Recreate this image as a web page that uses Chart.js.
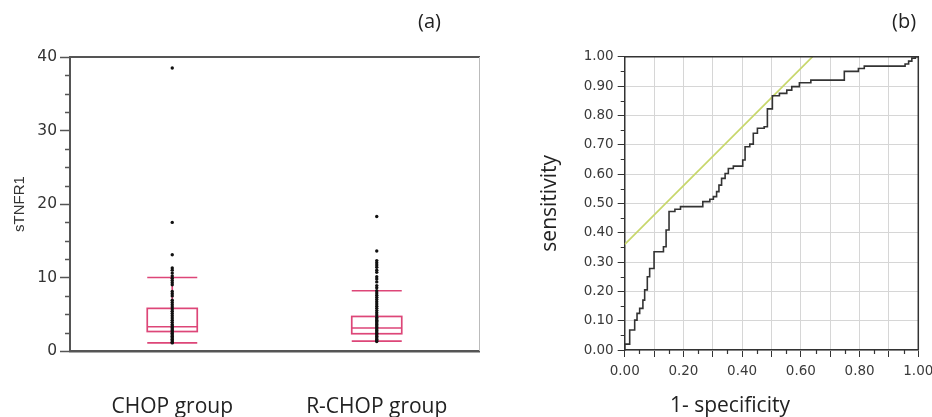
<!DOCTYPE html>
<html><head><meta charset="utf-8">
<script src="https://cdn.jsdelivr.net/npm/chart.js@4.4.1/dist/chart.umd.min.js"></script>
<style>
html,body{margin:0;padding:0;background:#fff;width:932px;height:417px;overflow:hidden;}
#wrapA{position:absolute;left:0;top:0;width:495px;height:417px;}
#wrapB{position:absolute;left:495px;top:0;width:437px;height:417px;}
.lbl{position:absolute;font-family:'Open Sans';color:#222;line-height:1;white-space:nowrap;}
</style></head><body>
<div id="wrapA"><canvas id="cA" width="495" height="417" style="width:495px;height:417px"></canvas></div>
<div id="wrapB"><canvas id="cB" width="437" height="417" style="width:437px;height:417px"></canvas></div>
<div class="lbl" style="left:418px;top:11px;font-size:20px">(a)</div>
<div class="lbl" style="left:892px;top:11px;font-size:20px">(b)</div>
<div class="lbl" style="left:670px;top:394px;font-size:21px">1- specificity</div>
<script>
// ---- Panel (a): box plots ----
const groups = ['CHOP group', 'R-CHOP group'];
const boxMin = [1.1, 1.35];
const boxQ1 = [2.65, 2.35];
const boxMedian = [3.3, 3.13];
const boxQ3 = [5.8, 4.7];
const boxMax = [10.0, 8.2];
const chopDots = [38.5, 17.5, 13.1, 11.3, 11.0, 10.6, 10.2, 9.9, 9.6, 9.3, 9.0, 8.1, 7.8, 7.5, 6.9, 6.6, 6.3, 6.0, 5.7, 5.4, 5.1, 4.8, 4.5, 4.2, 3.9, 3.6, 3.4, 3.2, 3.0, 2.8, 2.6, 2.4, 2.2, 2.0, 1.8, 1.6, 1.4, 1.2, 1.1];
const rchopDots = [18.3, 13.6, 12.3, 12.0, 11.7, 11.4, 11.0, 10.7, 10.1, 9.8, 9.4, 8.9, 8.6, 8.2, 7.9, 7.6, 7.3, 7.0, 6.7, 6.4, 6.1, 5.8, 5.5, 5.2, 4.9, 4.6, 4.4, 4.2, 4.0, 3.8, 3.6, 3.4, 3.2, 3.0, 2.8, 2.6, 2.4, 2.2, 2.0, 1.8, 1.6, 1.4, 1.3];
const yTicksA = [0, 10, 20, 30, 40];

// ---- Panel (b): ROC curve ----
const rocFpr = [0, 0, 0.017, 0.034, 0.042, 0.051, 0.062, 0.068, 0.077, 0.085, 0.100, 0.132, 0.141, 0.151, 0.171, 0.190, 0.266, 0.290, 0.302, 0.313, 0.321, 0.330, 0.342, 0.353, 0.370, 0.402, 0.410, 0.426, 0.438, 0.452, 0.475, 0.486, 0.503, 0.527, 0.552, 0.569, 0.595, 0.634, 0.748, 0.796, 0.816, 0.955, 0.967, 0.978, 0.990, 1.0];
const rocTpr = [0, 0.020, 0.068, 0.102, 0.125, 0.142, 0.170, 0.205, 0.250, 0.278, 0.335, 0.352, 0.409, 0.472, 0.480, 0.489, 0.506, 0.514, 0.523, 0.540, 0.562, 0.585, 0.602, 0.619, 0.627, 0.648, 0.693, 0.702, 0.739, 0.756, 0.761, 0.822, 0.867, 0.875, 0.886, 0.898, 0.911, 0.920, 0.950, 0.960, 0.968, 0.975, 0.985, 0.995, 1.0, 1.0];
const refX = [0, 0.64];
const refY = [0.36, 1.0];

const boxColor = '#dd4678';

const boxPlugin = {
  id: 'boxes',
  beforeDatasetsDraw(chart) {
    const {ctx, scales: {x, y}} = chart;
    const half = 25;
    ctx.save();
    ctx.strokeStyle = boxColor;
    ctx.lineWidth = 1.7;
    groups.forEach((g, i) => {
      const cx = x.getPixelForValue(i);
      const p = v => y.getPixelForValue(v);
      ctx.beginPath();
      ctx.moveTo(cx, p(boxMin[i])); ctx.lineTo(cx, p(boxMax[i]));
      ctx.moveTo(cx - half, p(boxMin[i])); ctx.lineTo(cx + half, p(boxMin[i]));
      ctx.moveTo(cx - half, p(boxMax[i])); ctx.lineTo(cx + half, p(boxMax[i]));
      ctx.moveTo(cx - half, p(boxMedian[i])); ctx.lineTo(cx + half, p(boxMedian[i]));
      ctx.stroke();
      ctx.strokeRect(cx - half, p(boxQ3[i]), 2 * half, p(boxQ1[i]) - p(boxQ3[i]));
    });
    ctx.restore();
  }
};

function minorTicks(id, axis, step, len, color, width) {
  return {
    id: id,
    afterDraw(chart) {
      const s = chart.scales[axis];
      const ctx = chart.ctx;
      ctx.save();
      ctx.strokeStyle = color; ctx.lineWidth = width;
      ctx.beginPath();
      const n = Math.round((s.max - s.min) / step);
      for (let k = 0; k <= n; k++) {
        if (k % 2 === 0 && axis === 'x') continue;
        const v = s.min + k * step;
        if (axis === 'y' && id === 'minorA' && k % 4 === 0) continue;
        if (axis === 'y' && id !== 'minorA' && k % 2 === 0) continue;
        const px = s.getPixelForValue(v);
        if (axis === 'y') {
          ctx.moveTo(s.right, Math.round(px) + 0.5); ctx.lineTo(s.right - len, Math.round(px) + 0.5);
        } else {
          ctx.moveTo(Math.round(px) + 0.5, s.top); ctx.lineTo(Math.round(px) + 0.5, s.top + len);
        }
      }
      ctx.stroke();
      ctx.restore();
    }
  };
}

const frameA = {
  id: 'frameA',
  afterDraw(chart) {
    const {ctx, chartArea: a} = chart;
    ctx.save();
    ctx.strokeStyle = '#555'; ctx.lineWidth = 2;
    ctx.beginPath(); ctx.moveTo(a.left, a.top); ctx.lineTo(a.right + 1, a.top); ctx.stroke();
    ctx.strokeStyle = '#bbb'; ctx.lineWidth = 1;
    ctx.beginPath(); ctx.moveTo(a.right + 0.5, a.top); ctx.lineTo(a.right + 0.5, a.bottom); ctx.stroke();
    ctx.restore();
  }
};
const frameB = {
  id: 'frameB',
  afterDraw(chart) {
    const {ctx, chartArea: a} = chart;
    ctx.save();
    ctx.strokeStyle = '#333'; ctx.lineWidth = 1.5;
    ctx.beginPath(); ctx.moveTo(a.left, a.top); ctx.lineTo(a.right, a.top); ctx.lineTo(a.right, a.bottom); ctx.stroke();
    ctx.restore();
  }
};

new Chart(document.getElementById('cA'), {
  type: 'line',
  data: {
    labels: groups,
    datasets: [
      {data: chopDots.map(v => ({x: groups[0], y: v})), showLine: false, pointRadius: 1.7, pointBackgroundColor: '#111', pointBorderWidth: 0},
      {data: rchopDots.map(v => ({x: groups[1], y: v})), showLine: false, pointRadius: 1.7, pointBackgroundColor: '#111', pointBorderWidth: 0}
    ]
  },
  options: {
    responsive: false, animation: false,
    layout: {padding: {left: 0, right: 16, top: 57, bottom: 0}},
    plugins: {legend: {display: false}, tooltip: {enabled: false}},
    scales: {
      x: {type: 'category', offset: true,
        grid: {display: false, drawTicks: false},
        border: {display: true, color: '#555', width: 2.5},
        ticks: {padding: 43, color: '#222', font: {family: 'Open Sans', size: 21}},
        afterFit(s) { s.height = 66; }},
      y: {min: 0, max: 40,
        afterBuildTicks(s) { s.ticks = yTicksA.map(v => ({value: v})); },
        ticks: {color: '#333', padding: 3, font: {family: 'DejaVu Sans', size: 15.5}},
        grid: {display: true, drawOnChartArea: false, tickLength: 10, tickColor: '#555', tickWidth: 1.5},
        border: {color: '#555', width: 2},
        title: {display: true, text: 'sTNFR1', color: '#333', font: {family: 'Liberation Sans', size: 15}, padding: {top: 11, bottom: 0}},
        afterFit(s) { s.width = 70; }}
    }
  },
  plugins: [boxPlugin, frameA, minorTicks('minorA', 'y', 2.5, 5, '#555', 1.5)]
});

new Chart(document.getElementById('cB'), {
  type: 'line',
  data: {
    datasets: [
      {data: rocFpr.map((v, i) => ({x: v, y: rocTpr[i]})), stepped: 'before', borderColor: '#333', borderWidth: 1.6, pointRadius: 0, fill: false},
      {data: refX.map((v, i) => ({x: v, y: refY[i]})), borderColor: '#c8d76c', borderWidth: 1.7, pointRadius: 0, fill: false}
    ]
  },
  options: {
    responsive: false, animation: false,
    layout: {padding: {left: 0, right: 13.7, top: 56.7, bottom: 0}},
    plugins: {legend: {display: false}, tooltip: {enabled: false}},
    scales: {
      x: {type: 'linear', min: 0, max: 1,
        ticks: {stepSize: 0.1, autoSkip: false, maxRotation: 0, color: '#3a3a3a', padding: 6,
          font: {family: 'DejaVu Sans', size: 13.5},
          callback: v => (Math.round(v * 10) % 2 === 0) ? v.toFixed(2) : ''},
        grid: {color: '#d6d6d6', tickColor: '#333', tickLength: 7, lineWidth: 1},
        border: {color: '#333', width: 1.5},
        afterFit(s) { s.height = 67; s.paddingLeft = 0; s.paddingRight = 0; }},
      y: {type: 'linear', min: 0, max: 1,
        ticks: {stepSize: 0.1, autoSkip: false, color: '#3a3a3a', padding: 4,
          font: {family: 'DejaVu Sans', size: 13.5},
          callback: v => v.toFixed(2)},
        grid: {color: '#d6d6d6', tickColor: '#333', tickLength: 7, lineWidth: 1},
        border: {color: '#333', width: 1.5},
        title: {display: true, text: 'sensitivity', color: '#222', font: {family: 'Open Sans', size: 21}, padding: {top: 42, bottom: 0}},
        afterFit(s) { s.width = 129.7; }}
    }
  },
  plugins: [frameB, minorTicks('minorBx', 'x', 0.05, 4, '#333', 1.2), minorTicks('minorBy', 'y', 0.05, 4, '#333', 1.2)]
});
</script>
</body></html>
